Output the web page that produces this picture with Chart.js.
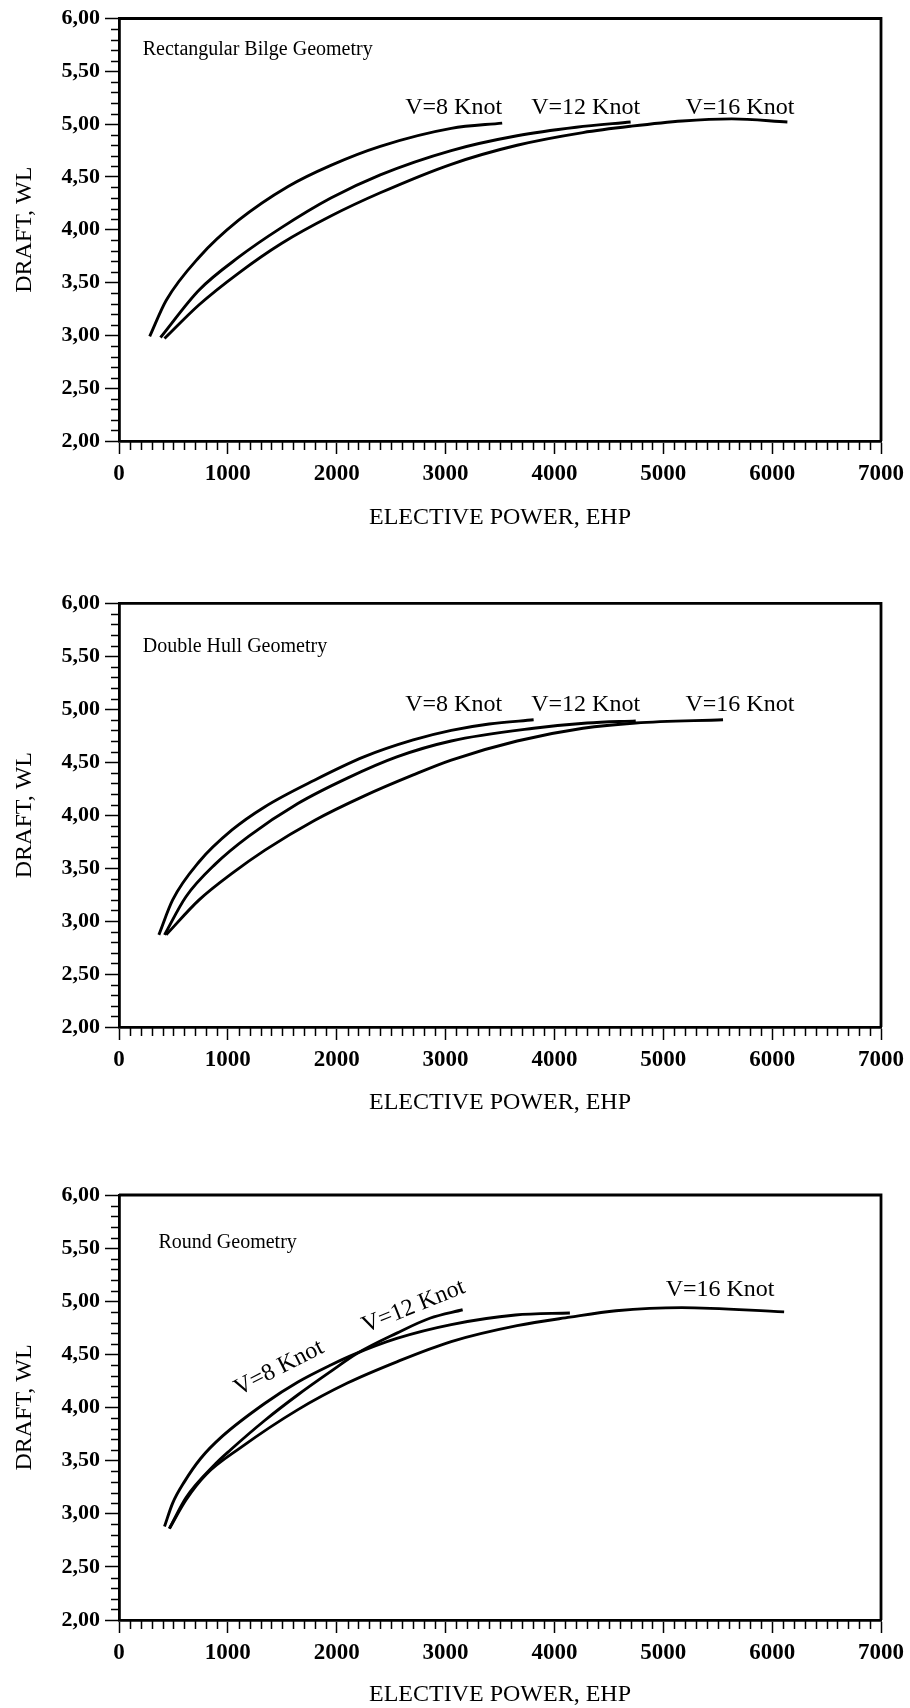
<!DOCTYPE html>
<html>
<head>
<meta charset="utf-8">
<title>Draft vs effective power</title>
<script src="https://cdn.jsdelivr.net/npm/chart.js@4.4.1/dist/chart.umd.min.js"></script>
<style>
  html, body { margin: 0; padding: 0; background: #fff; overflow: hidden; }
  #page { position: relative; width: 910px; height: 1708px; overflow: hidden; }
  #page canvas { position: absolute; left: 0; }
</style>
</head>
<body>
<div id="page">
  <canvas id="rect-chart" width="910" height="540" style="top:0px"></canvas>
  <canvas id="hull-chart" width="910" height="540" style="top:585px"></canvas>
  <canvas id="round-chart" width="910" height="541" style="top:1176px"></canvas>
</div>
<script>
// Rectangular bilge geometry
const rectV8Power = [282, 433, 736, 1099, 1553, 1946, 2400, 3052, 3520];
const rectV8Draft = [2.99, 3.33, 3.74, 4.09, 4.41, 4.61, 4.79, 4.96, 5.01];
const rectV12Power = [381, 736, 1099, 1492, 1946, 2400, 3052, 3657, 4200, 4700];
const rectV12Draft = [2.98, 3.43, 3.74, 4.02, 4.30, 4.52, 4.75, 4.89, 4.97, 5.02];
const rectV16Power = [418, 736, 1099, 1492, 1946, 2400, 3052, 3657, 4262, 4702, 5174, 5629, 6140];
const rectV16Draft = [2.97, 3.29, 3.59, 3.87, 4.13, 4.35, 4.62, 4.80, 4.92, 4.98, 5.03, 5.05, 5.02];

// Double hull geometry
const hullV8Power = [366, 493, 736, 1038, 1341, 1795, 2249, 2703, 3052, 3400, 3809];
const hullV8Draft = [2.87, 3.20, 3.56, 3.86, 4.08, 4.33, 4.55, 4.71, 4.80, 4.86, 4.90];
const hullV12Power = [418, 615, 887, 1190, 1643, 2098, 2552, 3052, 3809, 4300, 4747];
const hullV12Draft = [2.87, 3.23, 3.54, 3.80, 4.11, 4.35, 4.55, 4.70, 4.82, 4.87, 4.89];
const hullV16Power = [433, 736, 1038, 1341, 1795, 2249, 2703, 3052, 3657, 4262, 4747, 5549];
const hullV16Draft = [2.87, 3.20, 3.45, 3.67, 3.95, 4.18, 4.38, 4.52, 4.70, 4.82, 4.87, 4.90];

// Round geometry
const roundV8Power = [418, 493, 600, 750, 950, 1341, 1644, 1946, 2159, 2552, 3052, 3642, 4142];
const roundV8Draft = [2.88, 3.10, 3.30, 3.52, 3.73, 4.04, 4.24, 4.40, 4.50, 4.65, 4.78, 4.87, 4.89];
const roundV12Power = [463, 615, 887, 1023, 1341, 1644, 1946, 2189, 2552, 2855, 3157];
const roundV12Draft = [2.86, 3.15, 3.47, 3.60, 3.88, 4.12, 4.34, 4.51, 4.70, 4.84, 4.92];
const roundV16Power = [463, 615, 800, 1114, 1644, 2098, 2552, 3052, 3657, 4142, 4566, 5171, 6110];
const roundV16Draft = [2.86, 3.13, 3.37, 3.62, 3.98, 4.23, 4.43, 4.62, 4.77, 4.85, 4.91, 4.94, 4.90];

// Text notes, placed in data units
const rectNotes = [
  { text: 'Rectangular Bilge Geometry', x: 218, y: 5.70, small: true },
  { text: 'V=8 Knot', x: 3074, y: 5.16 },
  { text: 'V=12 Knot', x: 4287, y: 5.16 },
  { text: 'V=16 Knot', x: 5704, y: 5.16 },
];
const hullNotes = [
  { text: 'Double Hull Geometry', x: 218, y: 5.59, small: true },
  { text: 'V=8 Knot', x: 3074, y: 5.04 },
  { text: 'V=12 Knot', x: 4287, y: 5.04 },
  { text: 'V=16 Knot', x: 5704, y: 5.04 },
];
const roundNotes = [
  { text: 'Round Geometry', x: 363, y: 5.55, small: true },
  { text: 'V=8 Knot', x: 1471, y: 4.37, angle: -27 },
  { text: 'V=12 Knot', x: 2707, y: 4.95, angle: -22 },
  { text: 'V=16 Knot', x: 5522, y: 5.11 },
];

const SERIF = '"Liberation Serif", "Times New Roman", serif';

function toPoints(power, draft) {
  return power.map((p, i) => ({ x: p, y: draft[i] }));
}

// top/right frame and the minor ticks
const framePlugin = {
  id: 'frame',
  afterDraw(chart) {
    const { ctx, chartArea: a, scales } = chart;
    ctx.save();
    ctx.strokeStyle = '#000';
    ctx.lineWidth = 2.8;
    ctx.beginPath();
    ctx.moveTo(a.left, a.top);
    ctx.lineTo(a.right, a.top);
    ctx.lineTo(a.right, a.bottom);
    ctx.stroke();

    ctx.lineWidth = 1.5;
    ctx.beginPath();
    for (let i = 1; i < 40; i++) {
      if (i % 5 === 0) continue;
      const py = Math.round(scales.y.getPixelForValue(2 + i / 10)) + 0.5;
      ctx.moveTo(a.left - 8, py);
      ctx.lineTo(a.left, py);
    }
    for (let i = 1; i < 70; i++) {
      if (i % 10 === 0) continue;
      const px = Math.round(scales.x.getPixelForValue(i * 100)) + 0.5;
      ctx.moveTo(px, a.bottom);
      ctx.lineTo(px, a.bottom + 9);
    }
    ctx.stroke();
    ctx.restore();
  },
};

const notesPlugin = {
  id: 'notes',
  afterDatasetsDraw(chart, args, opts) {
    const { ctx, scales } = chart;
    ctx.save();
    ctx.fillStyle = '#000';
    ctx.textBaseline = 'middle';
    (opts.items || []).forEach(n => {
      const px = scales.x.getPixelForValue(n.x);
      const py = scales.y.getPixelForValue(n.y);
      ctx.save();
      ctx.translate(px, py);
      if (n.angle) ctx.rotate(n.angle * Math.PI / 180);
      ctx.font = n.small ? `20px ${SERIF}` : `24px ${SERIF}`;
      ctx.textAlign = n.small ? 'left' : 'center';
      ctx.fillText(n.text, 0, 0);
      ctx.restore();
    });
    ctx.restore();
  },
};

function renderPanel(id, series, notes, plotTop, axisHeight) {
  const canvas = document.getElementById(id);
  const lineStyle = {
    borderColor: '#000',
    borderWidth: 2.9,
    pointRadius: 0,
    fill: false,
    cubicInterpolationMode: 'monotone',
  };

  return new Chart(canvas, {
    type: 'line',
    data: {
      datasets: series.map(s => ({ ...lineStyle, label: s.label, data: toPoints(s.power, s.draft) })),
    },
    options: {
      responsive: false,
      animation: false,
      devicePixelRatio: 1,
      layout: { autoPadding: false, padding: { top: plotTop, right: 20, bottom: 0, left: 0 } },
      plugins: {
        legend: { display: false },
        tooltip: { enabled: false },
        notes: { items: notes },
      },
      scales: {
        x: {
          type: 'linear',
          min: 0,
          max: 7000,
          border: { display: true, color: '#000', width: 2.8 },
          grid: { drawOnChartArea: false, drawTicks: true, tickLength: 13, tickWidth: 1.5, tickColor: '#000' },
          ticks: {
            stepSize: 1000,
            maxRotation: 0,
            padding: 6,
            color: '#000',
            font: { family: SERIF, size: 23, weight: 'bold' },
            callback: (v) => String(v),
          },
          title: {
            display: true,
            text: 'ELECTIVE POWER, EHP',
            color: '#000',
            font: { family: SERIF, size: 24 },
            padding: { top: 0, bottom: 8 },
          },
          afterFit: (scale) => { scale.height = axisHeight; },
        },
        y: {
          min: 2,
          max: 6,
          border: { display: true, color: '#000', width: 2.8 },
          grid: { drawOnChartArea: false, drawTicks: true, tickLength: 14, tickWidth: 1.5, tickColor: '#000' },
          ticks: {
            stepSize: 0.5,
            padding: 5,
            color: '#000',
            font: { family: SERIF, size: 22, weight: 'bold' },
            callback: (v) => v.toFixed(2).replace('.', ','),
          },
          title: {
            display: true,
            text: 'DRAFT, WL',
            color: '#000',
            font: { family: SERIF, size: 24 },
            padding: { top: 10, bottom: 0 },
          },
          afterFit: (scale) => { scale.width = 119; },
        },
      },
    },
    plugins: [framePlugin, notesPlugin],
  });
}

renderPanel('rect-chart', [
  { label: 'V=8 Knot', power: rectV8Power, draft: rectV8Draft },
  { label: 'V=12 Knot', power: rectV12Power, draft: rectV12Draft },
  { label: 'V=16 Knot', power: rectV16Power, draft: rectV16Draft },
], rectNotes, 18.5, 99);

renderPanel('hull-chart', [
  { label: 'V=8 Knot', power: hullV8Power, draft: hullV8Draft },
  { label: 'V=12 Knot', power: hullV12Power, draft: hullV12Draft },
  { label: 'V=16 Knot', power: hullV16Power, draft: hullV16Draft },
], hullNotes, 18.3, 98);

renderPanel('round-chart', [
  { label: 'V=8 Knot', power: roundV8Power, draft: roundV8Draft },
  { label: 'V=12 Knot', power: roundV12Power, draft: roundV12Draft },
  { label: 'V=16 Knot', power: roundV16Power, draft: roundV16Draft },
], roundNotes, 19, 97);
</script>
</body>
</html>
